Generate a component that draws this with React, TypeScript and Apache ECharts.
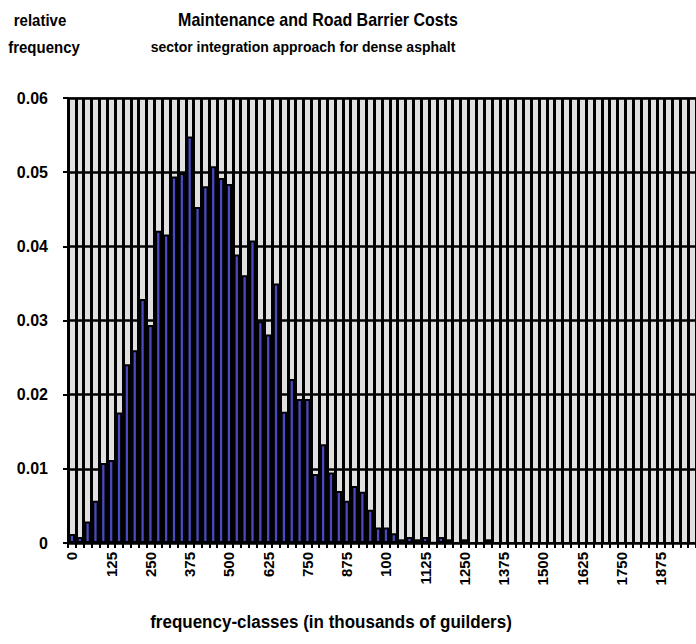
import React, { useEffect, useRef } from "react";
import * as echarts from "echarts";

const classStarts: number[] = Array.from({ length: 80 }, (_, i) => i * 25);

const relFrequency: number[] = [
  0.0012, 0.0008, 0.0029, 0.0057, 0.0108, 0.0112, 0.0176, 0.0241, 0.026, 0.0329,
  0.0294, 0.0421, 0.0416, 0.0494, 0.0499, 0.0548, 0.0453, 0.0481, 0.0508, 0.0492,
  0.0484, 0.0389, 0.0361, 0.0408, 0.0299, 0.0281, 0.035, 0.0177, 0.0221, 0.0194,
  0.0194, 0.0093, 0.0133, 0.0095, 0.007, 0.0057, 0.0077, 0.0069, 0.0045, 0.0021,
  0.0021, 0.0013, 0.0005, 0.0008, 0.0005, 0.0008, 0.0001, 0.0008, 0.0005, 0,
  0.0005, 0, 0, 0.0005, 0, 0, 0, 0, 0, 0,
  0, 0, 0, 0, 0, 0, 0, 0, 0, 0,
  0, 0, 0, 0, 0, 0, 0, 0, 0, 0,
];

const xTickLabels: string[] = [
  "0", "125", "250", "375", "500", "625", "750", "875", "100", "1125",
  "1250", "1375", "1500", "1625", "1750", "1875",
];

const yTicks: number[] = [0, 0.01, 0.02, 0.03, 0.04, 0.05, 0.06];

const titleText = "Maintenance and Road Barrier Costs";
const subtitleText = "sector integration approach for dense asphalt";
const yNameLines = ["relative", "frequency"];
const xNameText = "frequency-classes (in thousands of guilders)";

const FONT = "'Liberation Sans', Arial, sans-serif";

export default function App() {
  const ref = useRef<HTMLDivElement>(null);
  useEffect(() => {
    if (!ref.current) return;
    const chart = echarts.init(ref.current, null, { renderer: "svg" });
    const txt = (text: string, x: number, y: number, size: number, sy = 1) => ({
      type: "text",
      x,
      y,
      scaleY: sy,
      style: {
        text,
        fill: "#000",
        fontSize: size,
        fontWeight: "bold",
        fontFamily: FONT,
        align: "center",
        verticalAlign: "middle",
      },
    });
    chart.setOption({
      animation: false,
      backgroundColor: "#ffffff",
      grid: {
        left: 68,
        top: 98,
        bottom: 101,
        right: -6,
        show: true,
        backgroundColor: "#e0e0e0",
        borderColor: "#808080",
        borderWidth: 2,
      },
      xAxis: {
        type: "category",
        data: classStarts,
        boundaryGap: true,
        axisLine: { show: true, lineStyle: { color: "#000", width: 2 } },
        axisTick: { show: true, interval: 0, length: 5, lineStyle: { color: "#000", width: 2 } },
        splitLine: { show: true, interval: 0, lineStyle: { color: "#000", width: 3 } },
        axisLabel: {
          interval: 4,
          rotate: 90,
          margin: 9,
          fontSize: 15,
          fontWeight: "bold",
          fontFamily: FONT,
          color: "#000",
          formatter: (_v: string, idx: number) => xTickLabels[Math.floor(idx / 5)] ?? "",
        },
      },
      yAxis: {
        type: "value",
        min: yTicks[0],
        max: yTicks[yTicks.length - 1],
        interval: 0.01,
        axisLine: { show: true, lineStyle: { color: "#000", width: 2 } },
        axisTick: { show: true, length: 5, lineStyle: { color: "#000", width: 2 } },
        splitLine: { show: true, lineStyle: { color: "#000", width: 2.5 } },
        axisLabel: {
          margin: 20,
          fontSize: 16,
          fontWeight: "bold",
          fontFamily: FONT,
          color: "#000",
          formatter: (v: number) => (v === 0 ? "0" : v.toFixed(2)),
        },
      },
      series: [
        {
          type: "bar",
          data: relFrequency,
          barCategoryGap: "20%",
          itemStyle: { color: "#4a4ac0", borderColor: "#000", borderWidth: 2 },
          z: 3,
        },
      ],
      graphic: [
        txt(titleText, 318, 19, 16, 1.2),
        txt(subtitleText, 303, 47, 14, 1.1),
        txt(yNameLines[0], 40, 20, 15, 1.1),
        txt(yNameLines[1], 44, 47, 15, 1.1),
        txt(xNameText, 331, 622, 17, 1.05),
      ],
    });
    return () => chart.dispose();
  }, []);
  return (
    <div
      ref={ref}
      style={{ position: "absolute", left: 0, top: 0, width: 696, height: 644 }}
    />
  );
}
